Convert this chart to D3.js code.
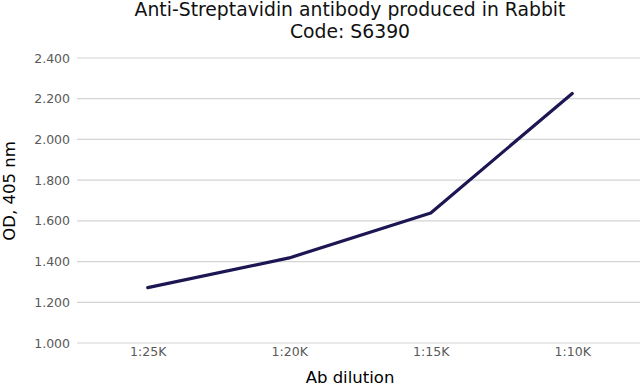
<!DOCTYPE html>
<html><head><meta charset="utf-8">
<script src="https://cdn.jsdelivr.net/npm/d3@7"></script>
<style>body{margin:0;background:#fff;}svg{display:block;}</style>
</head><body>
<svg id="c" width="640" height="389"></svg>
<script>
const categories = ["1:25K", "1:20K", "1:15K", "1:10K"];
const odValues = [1.272, 1.418, 1.639, 2.226];
const yTicks = [1.0, 1.2, 1.4, 1.6, 1.8, 2.0, 2.2, 2.4];
const titleLines = ["Anti-Streptavidin antibody produced in Rabbit", "Code: S6390"];
const xTitle = "Ab dilution";
const yTitle = "OD, 405 nm";

const svg = d3.select("#c");
const font = "'DejaVu Sans', Verdana, sans-serif";
const plotLeft = 77, plotRight = 640, plotTop = 58, plotBottom = 343;

const x = d3.scalePoint().domain(categories).range([plotLeft, 643]).padding(0.5);
const y = d3.scaleLinear().domain([1.0, 2.4]).range([plotBottom, plotTop]);

// gridlines
svg.append("g").selectAll("line").data(yTicks).join("line")
  .attr("x1", plotLeft).attr("x2", plotRight)
  .attr("y1", d => y(d)).attr("y2", d => y(d))
  .attr("stroke", "#d4d4d4").attr("stroke-width", 1.2);

// y axis labels
const yAxis = d3.axisLeft(y).tickValues(yTicks).tickFormat(d3.format(".3f")).tickSize(0).tickPadding(0);
const gy = svg.append("g").attr("transform", `translate(70,0)`).call(yAxis);
gy.select(".domain").remove();
gy.selectAll("text").attr("fill", "#595959").style("font-family", font).style("font-size", "12.5px");

// x axis labels
const xAxis = d3.axisBottom(x).tickSize(0).tickPadding(0);
const gx = svg.append("g").attr("transform", `translate(0,347)`).call(xAxis);
gx.select(".domain").remove();
gx.selectAll("text").attr("fill", "#595959").style("font-family", font).style("font-size", "12.5px");

// line
const line = d3.line().x((d, i) => x(categories[i])).y(d => y(d));
svg.append("path").datum(odValues).attr("d", line)
  .attr("fill", "none").attr("stroke", "#1c1653").attr("stroke-width", 3.2)
  .attr("stroke-linejoin", "round").attr("stroke-linecap", "round");

// title
svg.append("g").selectAll("text").data(titleLines).join("text")
  .attr("x", 350).attr("y", (d, i) => 16 + i * 22)
  .attr("text-anchor", "middle").attr("fill", "#111")
  .style("font-family", font).style("font-size", "18.8px").text(d => d);

// axis titles
svg.append("text").attr("x", 350).attr("y", 383).attr("text-anchor", "middle")
  .style("font-family", font).style("font-size", "16.5px").attr("fill", "#000").text(xTitle);
svg.append("text").attr("transform", "translate(15,191) rotate(-90)").attr("text-anchor", "middle")
  .style("font-family", font).style("font-size", "16.5px").attr("fill", "#000").text(yTitle);
</script>
</body></html>
